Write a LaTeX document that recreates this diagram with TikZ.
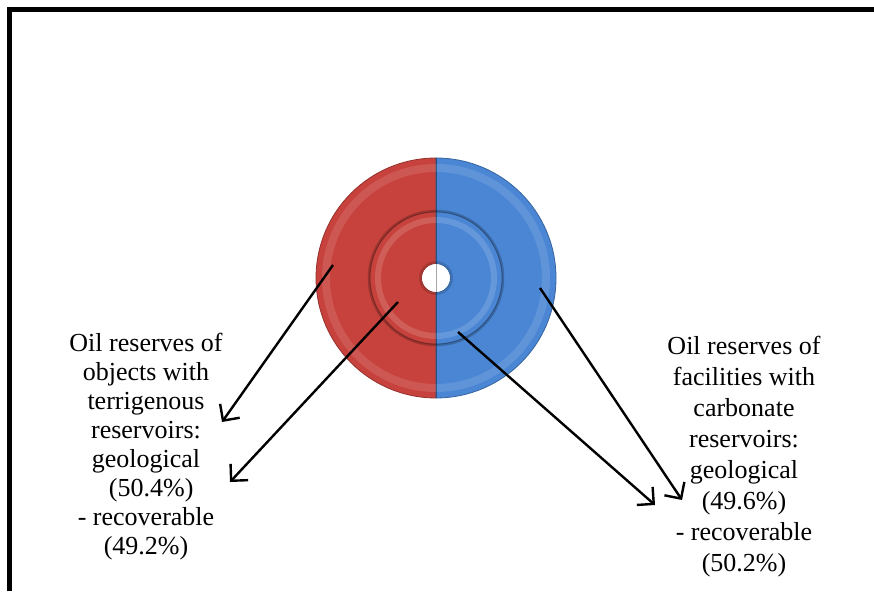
\documentclass[tikz,border=0pt]{standalone}
\usepackage{fontspec}
\setmainfont{Liberation Serif}
\usetikzlibrary{arrows.meta}
\definecolor{ringred}{RGB}{199,66,60}
\definecolor{ringblue}{RGB}{74,134,212}
\tikzset{t/.style={font=\fontsize{26}{29}\selectfont, align=center, inner sep=0pt}}
\tikzset{a/.style={line width=2.4pt, -{Straight Barb[length=12pt,width=24pt]}}}
\tikzset{ring/.style={draw=#1!75!black, line width=0.8pt, fill=#1}}

\begin{document}
\begin{tikzpicture}[line join=round, x=1pt, y=1pt]
  \useasboundingbox (0,0) rectangle (874,591);
  \draw[line width=5pt, line join=miter] (9.5,0) -- (9.5,581.5) -- (874,581.5);
  % donut: outer ring and inner ring, two halves each
  \begin{scope}[shift={(436,313)}]
    \filldraw[ring=ringred] (90:120) arc (90:270:120) -- (270:66) arc (270:90:66) -- cycle;
    \filldraw[ring=ringblue] (90:120) arc (90:-90:120) -- (-90:66) arc (-90:90:66) -- cycle;
    \filldraw[ring=ringred] (90:66) arc (90:270:66) -- (270:14.5) arc (270:90:14.5) -- cycle;
    \filldraw[ring=ringblue] (90:66) arc (90:-90:66) -- (-90:14.5) arc (-90:90:14.5) -- cycle;
    \draw[white, opacity=.12, line width=8pt] (0,0) circle (110);
    \draw[white, opacity=.15, line width=6pt] (0,0) circle (58);
    \draw[black, opacity=.22, line width=2.5pt] (0,0) circle (67);
    \draw[black, opacity=.15, line width=2pt] (0,0) circle (16);
    \draw[black, opacity=.35, line width=1pt] (0,120) -- (0,-120);
    \coordinate (redout) at (-103,13);
    \coordinate (redin) at (-38,-24);
    \coordinate (bluein) at (22,-54);
    \coordinate (blueout) at (104,-10);
  \end{scope}
  % labels
  \node[t] (terr) at (146,144) {Oil reserves of\\objects with\\terrigenous\\reservoirs:\\geological\\\hspace{0.4em}(50.4\%)\\- recoverable\\(49.2\%)};
  \node[t, font=\fontsize{26}{31}\selectfont] (carb) at (744,134) {Oil reserves of\\facilities with\\carbonate\\reservoirs:\\geological\\(49.6\%)\\- recoverable\\(50.2\%)};
  \coordinate (terrA) at (222,169);
  \coordinate (terrB) at (230,109);
  \coordinate (carbA) at (655,86);
  \coordinate (carbB) at (682,91);
  % arrows
  \draw[a] (redout) -- (terrA);
  \draw[a] (redin) -- (terrB);
  \draw[a] (bluein) -- (carbA);
  \draw[a] (blueout) -- (carbB);
\end{tikzpicture}
\end{document}
